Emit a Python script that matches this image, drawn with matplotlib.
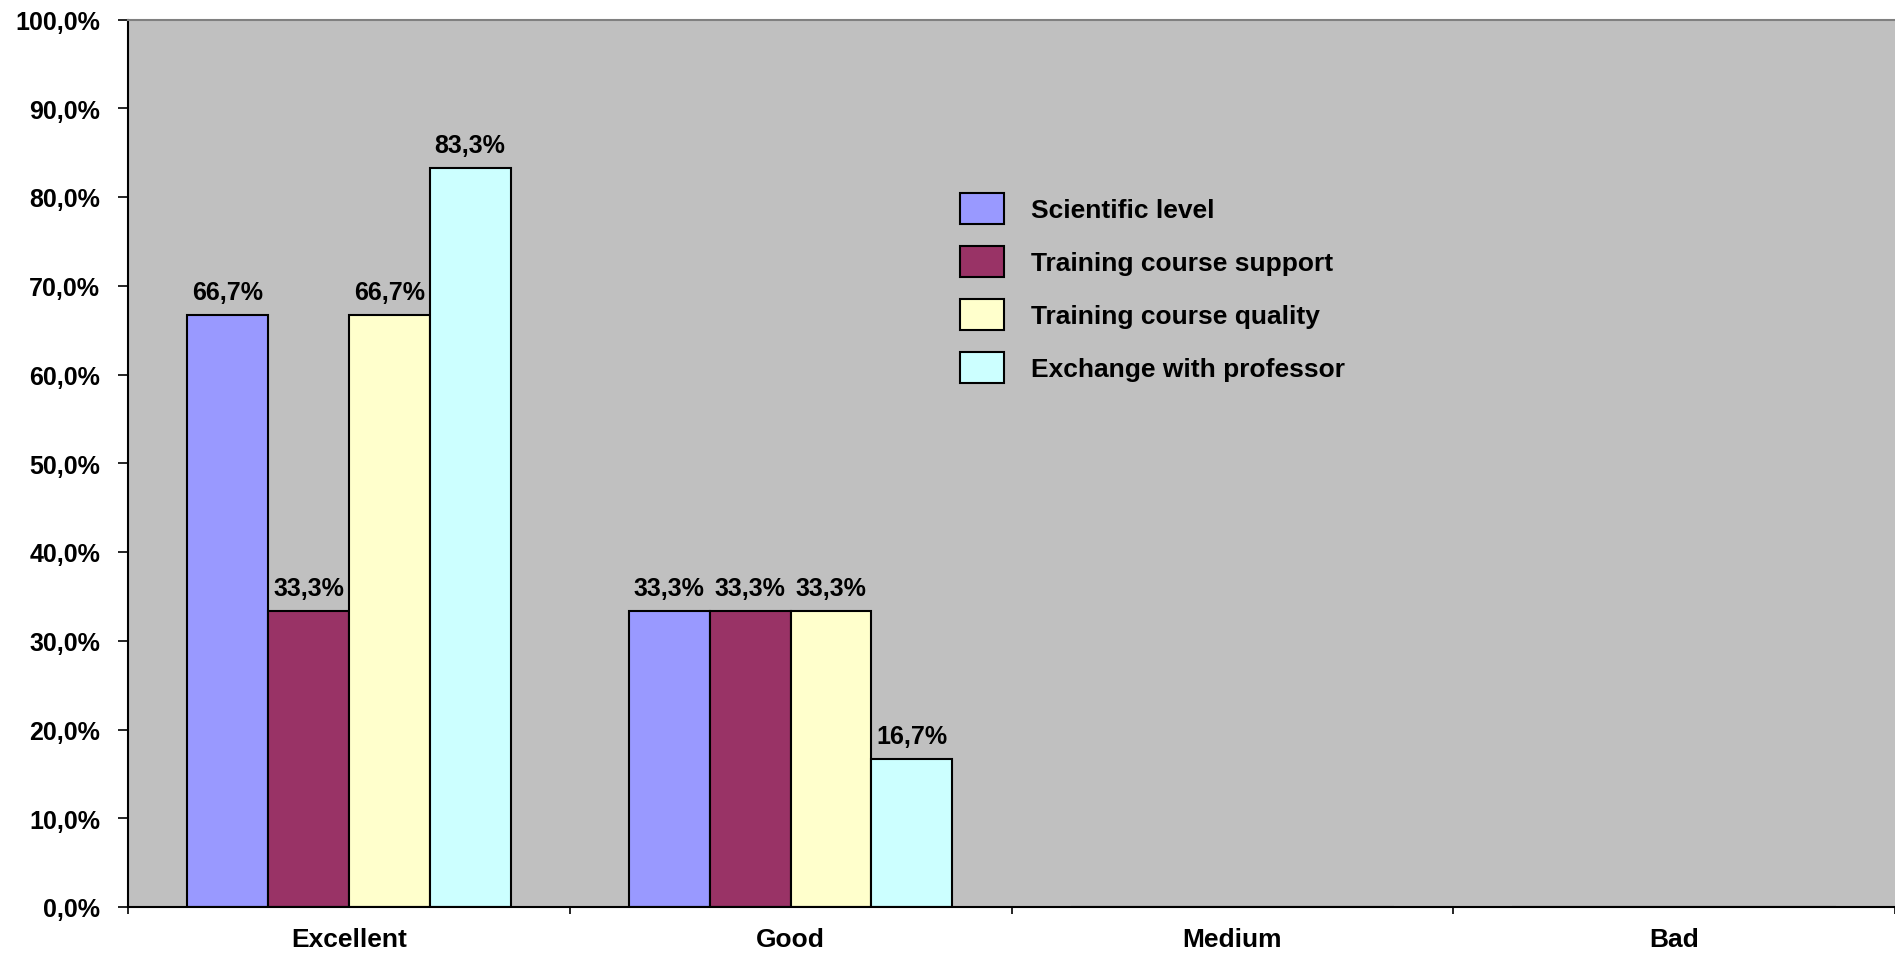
import matplotlib
matplotlib.use("Agg")
import matplotlib.pyplot as plt
import numpy as np

categories = ["Excellent", "Good", "Medium", "Bad"]
series_names = ["Scientific level", "Training course support",
                "Training course quality", "Exchange with professor"]
scientific_level = [0.667, 0.333, 0.0, 0.0]
course_support = [0.333, 0.333, 0.0, 0.0]
course_quality = [0.667, 0.333, 0.0, 0.0]
exchange_professor = [0.833, 0.167, 0.0, 0.0]
colors = ["#9999FF", "#993366", "#FFFFCC", "#CCFFFF"]
yticks = np.arange(0, 1.0001, 0.1)

plt.rcParams['font.family'] = ['Liberation Sans', 'DejaVu Sans']
plt.rcParams['font.weight'] = 'bold'

fig = plt.figure(figsize=(18.95, 9.54), dpi=100)
ax = fig.add_axes([128/1895, 1-908/954, 1-128/1895, (908-20.5)/954])
ax.set_facecolor("#C0C0C0")

all_series = [scientific_level, course_support, course_quality, exchange_professor]
x = np.arange(len(categories))
w = 0.183
for i, (vals, name, c) in enumerate(zip(all_series, series_names, colors)):
    pos = x + (i - 1.5) * w
    bars = ax.bar(pos, vals, width=w, color=c, edgecolor="black", linewidth=1.5, label=name)
    for xp, v in zip(pos, vals):
        if v > 0:
            ax.annotate(f"{v*100:.1f}%".replace(".", ","), (xp, v), xytext=(0, 8),
                        textcoords="offset points", ha="center", va="bottom",
                        fontsize=18, fontweight="bold")

ax.set_xlim(-0.5, 3.5)
ax.set_ylim(0, 1)
ax.set_yticks(yticks)
ax.set_yticklabels([f"{t*100:.1f}%".replace(".", ",") for t in yticks])
ax.tick_params(axis="y", direction="out", length=7, width=1.2, pad=13, labelsize=18)

ax.set_xticks(np.arange(-0.5, 3.6, 1.0))
ax.set_xticklabels([])
ax.set_xticks(x, minor=True)
ax.set_xticklabels(categories, minor=True, fontsize=19, fontweight="bold")
ax.tick_params(axis="x", which="major", direction="out", length=5, width=1.2)
ax.tick_params(axis="x", which="minor", length=0, pad=14.3)

for s in ["left", "bottom"]:
    ax.spines[s].set_color("black")
    ax.spines[s].set_linewidth(1.5)
ax.spines["top"].set_color("#808080")
ax.spines["top"].set_linewidth(1.5)
ax.spines["right"].set_visible(False)

leg = ax.legend(loc="upper left", bbox_to_anchor=(960/1895, 1-194/954),
                bbox_transform=fig.transFigure, frameon=False, fontsize=19,
                handlelength=1.65, handleheight=1.41, labelspacing=0.85,
                handletextpad=1.05, borderpad=0, borderaxespad=0)
for h in leg.legend_handles:
    h.set_linewidth(1.5)

fig.savefig("out.png", dpi=100)
